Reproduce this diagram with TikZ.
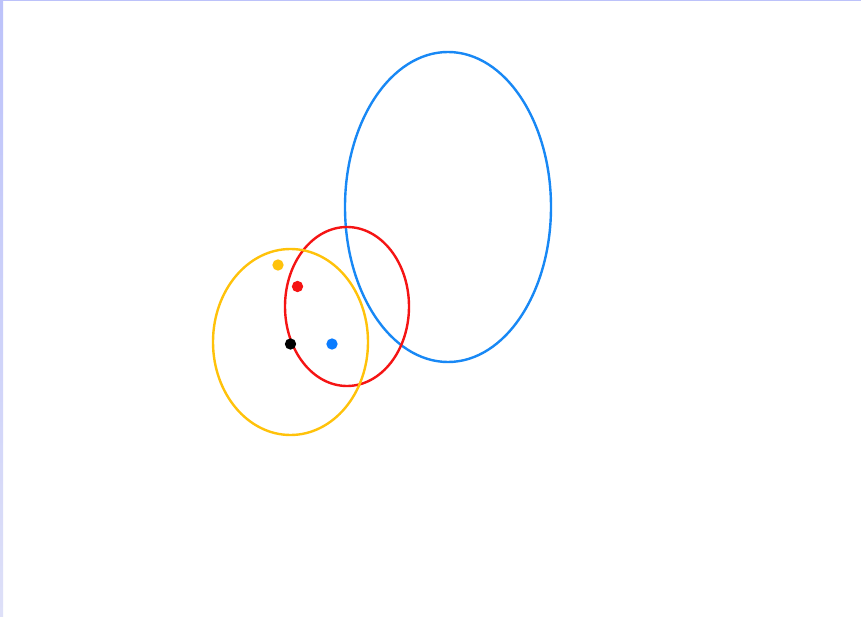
\documentclass[tikz,border=0pt]{standalone}
\usepackage{tikz}

\definecolor{skyblue}{RGB}{24,136,245}
\definecolor{brightred}{RGB}{245,20,20}
\definecolor{amber}{RGB}{255,194,10}
\definecolor{dotblue}{RGB}{10,124,255}
\definecolor{edgeblue}{RGB}{188,194,250}
\definecolor{edgefade}{RGB}{222,224,248}

\tikzset{
    ring/.style={line width=1.8pt},
    dot/.style={circle, inner sep=0pt, minimum size=8.5pt}
}

\begin{document}
\begin{tikzpicture}[x=0.75pt, y=-0.75pt]

    % Frame
    \fill[white] (0,0) rectangle (861,617);
    \shade[top color=edgeblue, bottom color=edgefade] (0,0) rectangle (3,617);
    \fill[edgeblue] (0,0) rectangle (861,1.3);

    % Ellipses
    \draw[ring, skyblue] (448,207) ellipse (103 and 155);
    \draw[ring, brightred] (347,306.5) ellipse (62 and 79.5);
    \draw[ring, amber] (290.5,342) ellipse (77.5 and 93);

    % Points
    \node[dot, fill=amber] (ptyellow) at (278,265) {};
    \node[dot, fill=brightred] (ptred) at (297.5,286.5) {};
    \node[dot, fill=black] (ptblack) at (290.5,344) {};
    \node[dot, fill=dotblue] (ptblue) at (332,344) {};

\end{tikzpicture}
\end{document}
